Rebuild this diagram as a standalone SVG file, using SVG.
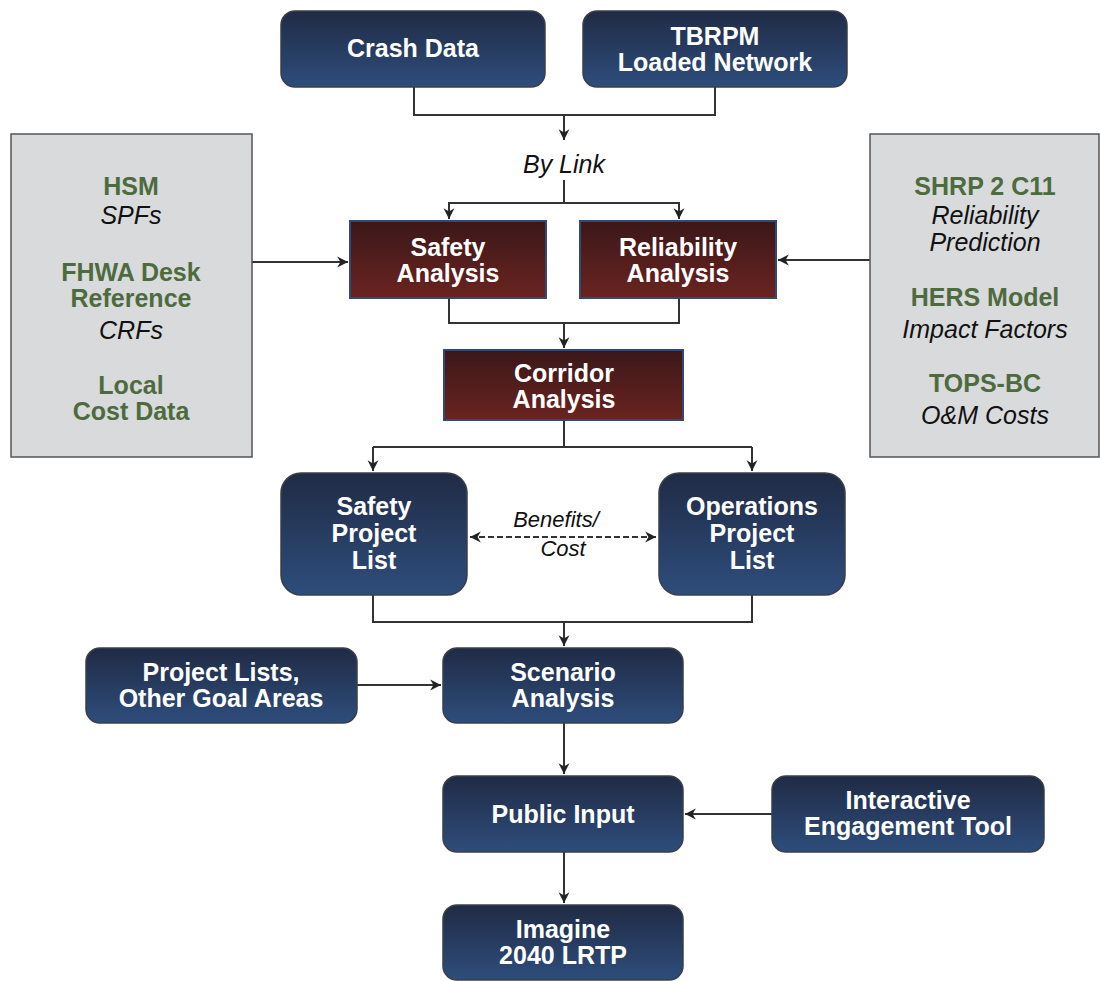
<svg xmlns="http://www.w3.org/2000/svg" width="1100" height="981" viewBox="0 0 1100 981">
<defs>
<linearGradient id="gb" x1="0" y1="0" x2="0" y2="1"><stop offset="0" stop-color="#202b45"/><stop offset="1" stop-color="#2e4d7c"/></linearGradient>
<linearGradient id="gr" x1="0" y1="0" x2="0" y2="1"><stop offset="0" stop-color="#3b1719"/><stop offset="1" stop-color="#6a2420"/></linearGradient>
<marker id="ar" viewBox="0 0 12 12" refX="11" refY="6" markerWidth="13" markerHeight="13" markerUnits="userSpaceOnUse" orient="auto-start-reverse"><path d="M1,1 L11,6 L1,11 L4,6 Z" fill="#222"/></marker>
<style>
.b{fill:url(#gb);stroke:#3a3f4a;stroke-width:1.5}
.r{fill:url(#gr);stroke:#2f4a78;stroke-width:2}
.g{fill:#d9dadb;stroke:#555;stroke-width:1.5}
.t{font-family:"Liberation Sans",Arial,sans-serif;font-weight:bold;font-size:25px;fill:#fff;text-anchor:middle}
.gt{font-family:"Liberation Sans",Arial,sans-serif;font-weight:bold;font-size:25px;fill:#4e6b3f;text-anchor:middle}
.it{font-family:"Liberation Sans",Arial,sans-serif;font-style:italic;font-size:25px;fill:#111;text-anchor:middle}
.sm{font-size:22px}
.c{fill:none;stroke:#333;stroke-width:2}
</style>
</defs>
<g id="connectors">
<path class="c" d="M414,87 V115 H715 V87"/>
<path class="c" d="M564,115 V140" marker-end="url(#ar)"/>
<path class="c" d="M564,180 V203"/>
<path class="c" d="M449,219 V203 H679 V219" />
<path class="c" d="M449,203 V219" marker-end="url(#ar)"/>
<path class="c" d="M679,203 V219" marker-end="url(#ar)"/>
<path class="c" d="M252,262 H348" marker-end="url(#ar)"/>
<path class="c" d="M870,260 H778" marker-end="url(#ar)"/>
<path class="c" d="M449,298 V323 H679 V298"/>
<path class="c" d="M564,323 V348" marker-end="url(#ar)"/>
<path class="c" d="M564,420 V447"/>
<path class="c" d="M373,447 H752"/>
<path class="c" d="M373,447 V471" marker-end="url(#ar)"/>
<path class="c" d="M752,447 V471" marker-end="url(#ar)"/>
<path class="c" d="M470,537 H656" stroke-dasharray="6,3" marker-start="url(#ar)" marker-end="url(#ar)"/>
<path class="c" d="M373,595 V622 H752 V595"/>
<path class="c" d="M564,622 V646" marker-end="url(#ar)"/>
<path class="c" d="M357,685 H441" marker-end="url(#ar)"/>
<path class="c" d="M564,723 V774" marker-end="url(#ar)"/>
<path class="c" d="M772,814 H685" marker-end="url(#ar)"/>
<path class="c" d="M564,852 V903" marker-end="url(#ar)"/>
<text class="it" x="564" y="173">By Link</text>
<text class="it sm" x="556" y="527">Benefits/</text>
<text class="it sm" x="563" y="556">Cost</text>
</g>
<g id="crash"><rect class="b" x="281" y="11" width="264" height="76" rx="14"/><text class="t" x="413" y="57">Crash Data</text></g>
<g id="tbrpm"><rect class="b" x="583" y="11" width="264" height="76" rx="14"/><text class="t" x="715" y="45">TBRPM</text><text class="t" x="715" y="71">Loaded Network</text></g>
<g id="left-sources"><rect class="g" x="11" y="134" width="241" height="323"/>
<text class="gt" x="131" y="195">HSM</text>
<text class="it" x="131" y="224">SPFs</text>
<text class="gt" x="131" y="281">FHWA Desk</text>
<text class="gt" x="131" y="307">Reference</text>
<text class="it" x="131" y="339">CRFs</text>
<text class="gt" x="131" y="394">Local</text>
<text class="gt" x="131" y="420">Cost Data</text>
</g>
<g id="right-sources"><rect class="g" x="870" y="134" width="229" height="323"/>
<text class="gt" x="985" y="195">SHRP 2 C11</text>
<text class="it" x="985" y="224">Reliability</text>
<text class="it" x="985" y="251">Prediction</text>
<text class="gt" x="985" y="306">HERS Model</text>
<text class="it" x="985" y="338">Impact Factors</text>
<text class="gt" x="985" y="392">TOPS-BC</text>
<text class="it" x="985" y="424">O&amp;M Costs</text>
</g>
<g id="safety-analysis"><rect class="r" x="350" y="221" width="196" height="77"/><text class="t" x="448" y="256">Safety</text><text class="t" x="448" y="282">Analysis</text></g>
<g id="reliability-analysis"><rect class="r" x="580" y="221" width="196" height="77"/><text class="t" x="678" y="256">Reliability</text><text class="t" x="678" y="282">Analysis</text></g>
<g id="corridor-analysis"><rect class="r" x="444" y="350" width="239" height="70"/><text class="t" x="564" y="382">Corridor</text><text class="t" x="564" y="408">Analysis</text></g>
<g id="safety-list"><rect class="b" x="281" y="473" width="186" height="122" rx="20"/><text class="t" x="374" y="515">Safety</text><text class="t" x="374" y="542">Project</text><text class="t" x="374" y="569">List</text></g>
<g id="ops-list"><rect class="b" x="659" y="473" width="186" height="122" rx="20"/><text class="t" x="752" y="515">Operations</text><text class="t" x="752" y="542">Project</text><text class="t" x="752" y="569">List</text></g>
<g id="other-lists"><rect class="b" x="86" y="648" width="271" height="75" rx="14"/><text class="t" x="221" y="681">Project Lists,</text><text class="t" x="221" y="707">Other Goal Areas</text></g>
<g id="scenario"><rect class="b" x="443" y="648" width="240" height="75" rx="14"/><text class="t" x="563" y="681">Scenario</text><text class="t" x="563" y="707">Analysis</text></g>
<g id="public-input"><rect class="b" x="443" y="776" width="240" height="76" rx="14"/><text class="t" x="563" y="823">Public Input</text></g>
<g id="engagement"><rect class="b" x="772" y="776" width="272" height="76" rx="14"/><text class="t" x="908" y="809">Interactive</text><text class="t" x="908" y="835">Engagement Tool</text></g>
<g id="lrtp"><rect class="b" x="443" y="905" width="240" height="75" rx="14"/><text class="t" x="563" y="938">Imagine</text><text class="t" x="563" y="964">2040 LRTP</text></g>
</svg>
